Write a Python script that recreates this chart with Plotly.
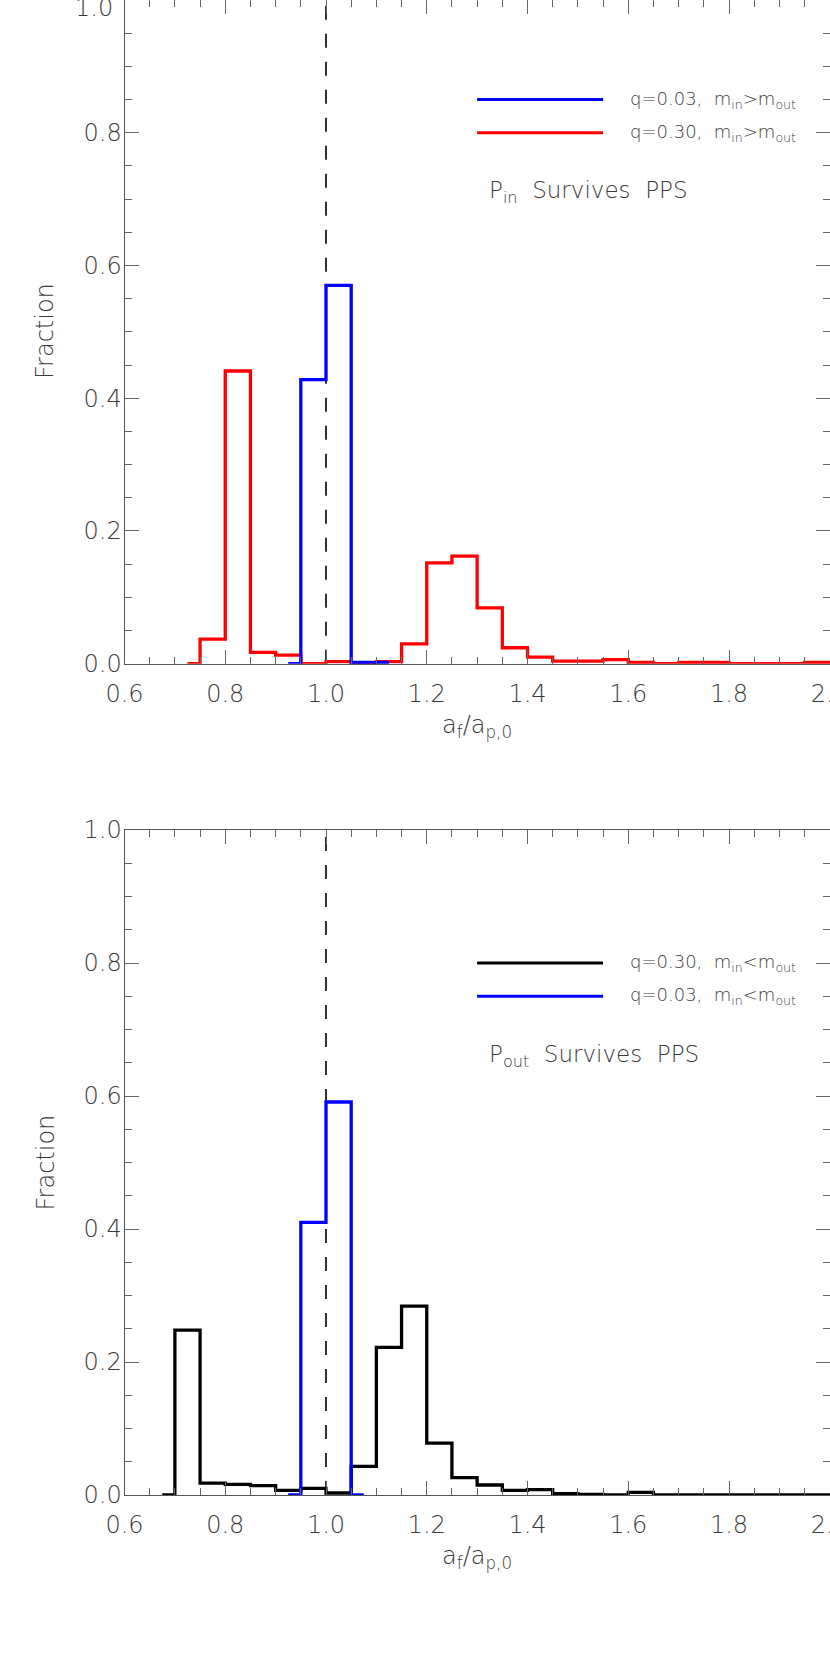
import plotly.graph_objects as go

# histogram bin centres (bin width 0.05) and fractions
x_blue_in = [0.925, 0.975, 1.025, 1.075, 1.125]
f_blue_in = [0.0, 0.428, 0.570, 0.002, 0.002]

x_red_in = [0.725, 0.775, 0.825, 0.875, 0.925, 0.975, 1.025, 1.075, 1.125, 1.175,
            1.225, 1.275, 1.325, 1.375, 1.425, 1.475, 1.525, 1.575, 1.625, 1.675,
            1.725, 1.775, 1.825, 1.875, 1.925, 1.975, 2.025, 2.075]
f_red_in = [0.0, 0.037, 0.441, 0.017, 0.013, 0.0, 0.003, 0.0, 0.003, 0.030,
            0.152, 0.162, 0.084, 0.024, 0.010, 0.004, 0.004, 0.006, 0.002, 0.0,
            0.002, 0.002, 0.0, 0.0, 0.0, 0.002, 0.002, 0.002]

x_black_out = [0.675, 0.725, 0.775, 0.825, 0.875, 0.925, 0.975, 1.025, 1.075, 1.125,
               1.175, 1.225, 1.275, 1.325, 1.375, 1.425, 1.475, 1.525, 1.575, 1.625,
               1.675, 1.725, 1.775, 1.825, 1.875, 1.925, 1.975, 2.025, 2.075]
f_black_out = [0.0, 0.248, 0.018, 0.016, 0.014, 0.007, 0.010, 0.003, 0.043, 0.222,
               0.284, 0.078, 0.026, 0.015, 0.007, 0.008, 0.002, 0.001, 0.0, 0.004,
               0.0, 0.0, 0.0, 0.0, 0.0, 0.0, 0.0, 0.0, 0.0]

x_blue_out = [0.925, 0.975, 1.025, 1.075]
f_blue_out = [0.0, 0.410, 0.591, 0.0]

ref_x = 1.0

# tick values / labels
x_ticks = [0.6, 0.8, 1.0, 1.2, 1.4, 1.6, 1.8, 2.0]
x_labels = ["0.6", "0.8", "1.0", "1.2", "1.4", "1.6", "1.8", "2.0"]
y_ticks = [0.0, 0.2, 0.4, 0.6, 0.8, 1.0]
y_labels = ["0.0", "0.2", "0.4", "0.6", "0.8", "1.0"]

FONT = "DejaVu Sans"
TXT = "#3a3a3a"
W, H = 830, 1661

fig = go.Figure()

def hist(x, y, color, xa, ya):
    fig.add_trace(go.Scatter(x=x, y=y, mode="lines", line=dict(color=color, width=3.3, shape="hvh"),
                             xaxis=xa, yaxis=ya, showlegend=False, hoverinfo="skip"))

def refline(xa, ya):
    fig.add_trace(go.Scatter(x=[ref_x, ref_x], y=[0, 1], mode="lines",
                             line=dict(color="black", width=1.6, dash="14px,14px"),
                             xaxis=xa, yaxis=ya, showlegend=False, hoverinfo="skip"))

# top panel
refline("x", "y")
hist(x_red_in, f_red_in, "#ff0000", "x", "y")
hist(x_blue_in, f_blue_in, "#0000ff", "x", "y")
# bottom panel
refline("x2", "y2")
hist(x_black_out, f_black_out, "#000000", "x2", "y2")
hist(x_blue_out, f_blue_out, "#0000ff", "x2", "y2")

axis_common = dict(
    showline=True, linecolor="#555555", linewidth=1, mirror="ticks",
    ticks="inside", ticklen=14, tickcolor="#666666", tickwidth=1,
    showgrid=False, zeroline=False, automargin=False, ticklabeloverflow="allow",
    tickfont=dict(family=FONT, size=24, color=TXT, weight=200),
)
minor = dict(dtick=0.05, ticklen=7, ticks="inside", tickcolor="#666666")
xax = dict(axis_common, range=[0.6, 2.0005], tickmode="array", tickvals=x_ticks, ticktext=x_labels,
           minor=dict(minor, tick0=0.6), ticklabelstandoff=8)
yax = dict(axis_common, range=[0, 1.0], tickmode="array", tickvals=y_ticks, ticktext=y_labels,
           minor=dict(minor, tick0=0.0), ticklabelstandoff=-3)
# the top label of the upper panel sits at the page edge; it is placed separately
yax_top = dict(yax, ticktext=y_labels[:-1] + [""])

top_dom = [1 - 663.7 / H, 1.0]
bot_dom = [1 - 1495 / H, 1 - 830 / H]
x_dom = [124.5 / W, 1.0]

fig.update_layout(
    width=W, height=H,
    margin=dict(l=0, r=0, t=0, b=0),
    paper_bgcolor="white", plot_bgcolor="white",
    xaxis=dict(xax, domain=x_dom, anchor="y"),
    yaxis=dict(yax_top, domain=top_dom, anchor="x"),
    xaxis2=dict(xax, domain=x_dom, anchor="y2"),
    yaxis2=dict(yax, domain=bot_dom, anchor="x2"),
    showlegend=False,
)

ann = []
shapes = []

def legend_row(xa, ya, y, color, text):
    shapes.append(dict(type="line", xref=xa, yref=ya, x0=1.30, x1=1.55, y0=y, y1=y,
                       line=dict(color=color, width=3)))
    ann.append(dict(xref=xa, yref=ya, x=1.60, y=y, text=text, showarrow=False,
                    xanchor="left", yanchor="middle",
                    font=dict(family=FONT, size=18, color=TXT, weight=200)))

legend_row("x", "y", 0.85, "#0000ff", "q=0.03,  m<sub>in</sub>&gt;m<sub>out</sub>")
legend_row("x", "y", 0.80, "#ff0000", "q=0.30,  m<sub>in</sub>&gt;m<sub>out</sub>")
legend_row("x2", "y2", 0.80, "#000000", "q=0.30,  m<sub>in</sub>&lt;m<sub>out</sub>")
legend_row("x2", "y2", 0.75, "#0000ff", "q=0.03,  m<sub>in</sub>&lt;m<sub>out</sub>")

ann.append(dict(xref="x", yref="y", x=1.32, y=0.71, text="P<sub>in</sub>  Survives  PPS",
                showarrow=False, xanchor="left", yanchor="middle",
                font=dict(family=FONT, size=23, color=TXT, weight=200)))
ann.append(dict(xref="x2", yref="y2", x=1.32, y=0.66, text="P<sub>out</sub>  Survives  PPS",
                showarrow=False, xanchor="left", yanchor="middle",
                font=dict(family=FONT, size=23, color=TXT, weight=200)))

# "1.0" label of the upper panel
ann.append(dict(xref="paper", yref="paper", x=115 / W, y=1 - 8 / H, text=y_labels[-1],
                showarrow=False, xanchor="right", yanchor="middle",
                font=dict(family=FONT, size=24, color=TXT, weight=200)))

# axis titles
for yc in [331 / H, 1162.5 / H]:
    ann.append(dict(xref="paper", yref="paper", x=45 / W, y=1 - yc, text="Fraction",
                    textangle=-90, showarrow=False, xanchor="center", yanchor="middle",
                    font=dict(family=FONT, size=24, color=TXT, weight=200)))
for yc in [726, 1557]:
    ann.append(dict(xref="paper", yref="paper", x=477 / W, y=1 - yc / H,
                    text="a<sub>f</sub>/a<sub>p,0</sub>", showarrow=False,
                    xanchor="center", yanchor="middle",
                    font=dict(family=FONT, size=24, color=TXT, weight=200)))

fig.update_layout(annotations=ann, shapes=shapes)

fig.write_html("out.html", config={"displayModeBar": False},
               post_script="document.body.style.margin='0px';")
